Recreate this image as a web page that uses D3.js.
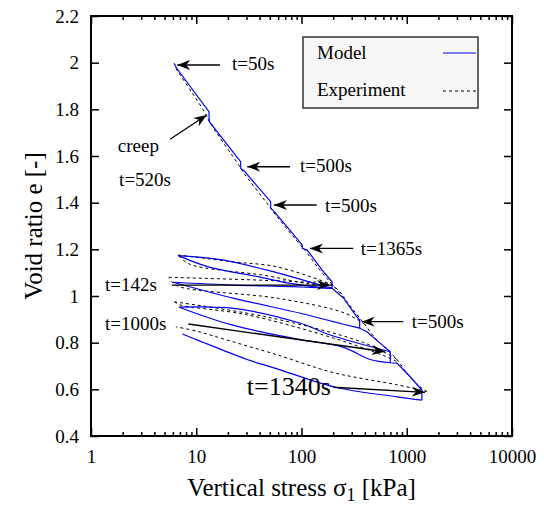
<!DOCTYPE html>
<html>
<head>
<meta charset="utf-8">
<script src="https://cdn.jsdelivr.net/npm/d3@7"></script>
<style>
  body { margin: 0; background: #fff; }
  svg text { font-family: "Liberation Serif", "Times New Roman", serif; fill: #000; }
</style>
</head>
<body>
<div id="graph"></div>
<script>
// axis ticks
var xTicks = [1, 10, 100, 1000, 10000]
var yTicks = [0.4, 0.6, 0.8, 1, 1.2, 1.4, 1.6, 1.8, 2, 2.2]

// model, [stress kPa, void ratio e]
var modelVirgin = [
  [6.16,1.997],[6.49,1.977],[13.2,1.790],[13.3,1.747],[26.4,1.576],[26.5,1.547],[28.4,1.537],
  [50.9,1.404],[51.0,1.376],[54.6,1.364],[101.6,1.219],[101.7,1.204],[113.3,1.197],[157,1.111],
  [195,1.061],[195,1.033],[252,0.990],[325,0.919],[357,0.897],[357,0.862],
  [419,0.847],[561,0.797],[697,0.761],[697,0.714],
  [807,0.712],[1079,0.654],[1393,0.597],[1393,0.554]
]
var modelUnloadA = [[195,1.033],[160,1.036],[78.6,1.054],[38.3,1.083],[12.8,1.126],[6.78,1.173]]
var modelReloadA = [[6.78,1.173],[18.2,1.154],[59.2,1.099],[162,1.043],[195,1.035]]
var modelUnloadB = [[357,0.862],[200,0.890],[97.9,0.926],[22.8,0.990],[6.03,1.059]]
var modelReloadB = [[6.03,1.059],[22,1.047],[80,1.040],[195,1.033]]
var modelUnloadC = [[697,0.714],[450,0.728],[250,0.780],[92.5,0.815],[21.8,0.876],[6.87,0.952]]
var modelReloadC = [[6.87,0.952],[22.8,0.947],[97.9,0.883],[188,0.833],[697,0.761]]
var modelUnloadEnd = [[1393,0.554],[807,0.568],[210,0.609],[56.7,0.690],[29.5,0.730],[10.3,0.811],[7.4,0.837]]

// experiment, [stress kPa, void ratio e]
var expVirgin = [
  [6.4,1.975],[9,1.875],[12.5,1.775],[13.3,1.748],[25,1.565],[27.5,1.535],[48,1.392],[53,1.365],
  [96,1.222],[108,1.196],[150,1.11],[200,1.045],[260,0.985],[330,0.925],[400,0.878],
  [500,0.82],[650,0.77],[800,0.73],[1000,0.67],[1300,0.615],[1560,0.59]
]
var expUnloadA = [[200,1.045],[120,1.052],[45,1.088],[8.6,1.137],[6.7,1.176]]
var expReloadA = [[6.7,1.176],[22,1.147],[57,1.126],[157,1.065],[200,1.045]]
var expUnloadB = [[400,0.878],[260,0.926],[60,0.99],[6.9,1.04],[5.8,1.064],[5.5,1.08]]
var expReloadB = [[5.5,1.08],[30,1.07],[100,1.06],[190,1.05],[260,0.99]]
var expUnloadC = [[800,0.73],[390,0.80],[47,0.91],[6.2,0.975]]
var expReloadC = [[6.2,0.975],[7,0.962],[30,0.92],[200,0.82],[600,0.745],[800,0.72]]
var expUnloadEnd = [[1560,0.59],[800,0.62],[390,0.645],[188,0.675],[56.7,0.75],[20,0.81],[10.6,0.847],[6.4,0.868]]

// annotations: label, arrow tail, arrow tip, text anchor (all in data units)
var notes = [
  {label: 't=50s',   tail: [16.8,1.990], tip: [6.6,1.990],  text: [21.9,1.969]},
  {label: 't=500s',  tail: [77.8,1.554], tip: [30.5,1.554], text: [96.8,1.533]},
  {label: 't=500s',  tail: [139.4,1.390], tip: [54.8,1.390], text: [167.2,1.361]},
  {label: 't=1365s', tail: [310.6,1.204], tip: [120.4,1.204], text: [365,1.176]},
  {label: 't=142s',  tail: [5.85,1.047], tip: [186.6,1.047], text: [1.36,1.023]},
  {label: 't=500s',  tail: [927,0.890], tip: [373,0.890],  text: [1114,0.862]},
  {label: 't=1000s', tail: [8.41,0.880], tip: [621,0.761],  text: [1.36,0.854]},
  {label: 't=1340s', tail: [200.5,0.609], tip: [1491,0.587], text: [30.2,0.576], big: true},
  {label: 'creep',   tail: [5.63,1.672], tip: [12.6,1.776], text: [1.80,1.617]},
  {label: 't=520s',  text: [1.85,1.471]}
]

var W = 544, H = 509
var pL = 91, pR = 512, pT = 16, pB = 436

var svg = d3.select('#graph').append('svg')
    .attr('width', W).attr('height', H)

var x = d3.scaleLog().domain([1, 10000]).range([pL, pR])
var y = d3.scaleLinear().domain([0.4, 2.2]).range([pB, pT])

svg.append('defs').append('marker')
    .attr('id', 'head')
    .attr('viewBox', '-13 -6 15 12')
    .attr('markerWidth', 15).attr('markerHeight', 12)
    .attr('markerUnits', 'userSpaceOnUse')
    .attr('refX', 0).attr('refY', 0)
    .attr('orient', 'auto')
  .append('path')
    .attr('d', 'M0,0 L-13,-5 L-9,0 L-13,5 Z')
    .attr('fill', '#000')

// minor ticks for the log axis
var minor = []
for (var d = 1; d < 10000; d *= 10)
  for (var k = 2; k < 10; k++) minor.push(d * k)

svg.append('g').attr('transform', 'translate(0,' + pB + ')')
    .call(d3.axisBottom(x).tickValues(xTicks).tickFormat(d3.format('d')).tickSizeInner(-8).tickSizeOuter(0).tickPadding(14))
svg.append('g').attr('transform', 'translate(0,' + pB + ')')
    .call(d3.axisBottom(x).tickValues(minor).tickFormat('').tickSizeInner(-4).tickSizeOuter(0))
svg.append('g').attr('transform', 'translate(0,' + pT + ')')
    .call(d3.axisTop(x).tickValues(xTicks).tickFormat('').tickSizeInner(-8).tickSizeOuter(0))
svg.append('g').attr('transform', 'translate(0,' + pT + ')')
    .call(d3.axisTop(x).tickValues(minor).tickFormat('').tickSizeInner(-4).tickSizeOuter(0))
svg.append('g').attr('transform', 'translate(' + pL + ',0)')
    .call(d3.axisLeft(y).tickValues(yTicks).tickFormat(d3.format('~g')).tickSizeInner(-8).tickSizeOuter(0).tickPadding(12))
svg.append('g').attr('transform', 'translate(' + pR + ',0)')
    .call(d3.axisRight(y).tickValues(yTicks).tickFormat('').tickSizeInner(-8).tickSizeOuter(0))

svg.selectAll('.domain').remove()
svg.selectAll('.tick line').attr('stroke', '#000').attr('stroke-width', 1.5)
svg.selectAll('.tick text').style('font-size', '19px')
    .style('font-family', '"Liberation Serif", "Times New Roman", serif')

// frame
svg.append('rect')
    .attr('x', pL).attr('y', pT)
    .attr('width', pR - pL).attr('height', pB - pT)
    .attr('fill', 'none').attr('stroke', '#000').attr('stroke-width', 2)

var straight = d3.line().x(function(d){ return x(d[0]) }).y(function(d){ return y(d[1]) })
var smooth = d3.line().x(function(d){ return x(d[0]) }).y(function(d){ return y(d[1]) })
    .curve(d3.curveCatmullRom.alpha(0.5))

function draw(pts, gen, dashed) {
  svg.append('path').datum(pts)
      .attr('d', gen)
      .attr('fill', 'none')
      .attr('stroke', dashed ? '#000' : '#0000ee')
      .attr('stroke-width', dashed ? 1 : 1.2)
      .attr('stroke-dasharray', dashed ? '3,3' : null)
}

draw(expVirgin, smooth, true)
;[expUnloadA, expReloadA, expUnloadB, expReloadB, expUnloadC, expReloadC, expUnloadEnd]
  .forEach(function(p){ draw(p, smooth, true) })

draw(modelVirgin, straight, false)
;[modelUnloadA, modelReloadA, modelUnloadB, modelReloadB, modelUnloadC, modelReloadC, modelUnloadEnd]
  .forEach(function(p){ draw(p, smooth, false) })

// annotations
notes.forEach(function(n){
  if (n.tail) {
    svg.append('line')
        .attr('x1', x(n.tail[0])).attr('y1', y(n.tail[1]))
        .attr('x2', x(n.tip[0])).attr('y2', y(n.tip[1]))
        .attr('stroke', '#000').attr('stroke-width', 1.3)
        .attr('marker-end', 'url(#head)')
  }
  svg.append('text')
      .attr('x', x(n.text[0])).attr('y', y(n.text[1]))
      .style('font-size', n.big ? '26px' : '19px')
      .text(n.label)
})

// legend
var lg = svg.append('g')
lg.append('rect')
    .attr('x', 303).attr('y', 37).attr('width', 175).attr('height', 71)
    .attr('fill', '#f7f7f7').attr('stroke', '#333').attr('stroke-width', 1.5)
lg.append('text').attr('x', 317).attr('y', 59).style('font-size', '19px').text('Model')
lg.append('text').attr('x', 317).attr('y', 96).style('font-size', '19px').text('Experiment')
lg.append('line').attr('x1', 443).attr('x2', 476).attr('y1', 53).attr('y2', 53)
    .attr('stroke', '#0000ee').attr('stroke-width', 1.2)
lg.append('line').attr('x1', 443).attr('x2', 476).attr('y1', 91).attr('y2', 91)
    .attr('stroke', '#000').attr('stroke-width', 1).attr('stroke-dasharray', '3,3')

// axis titles
var xt = svg.append('text')
    .attr('x', (pL + pR) / 2).attr('y', 496)
    .attr('text-anchor', 'middle')
    .style('font-size', '25px')
xt.append('tspan').text('Vertical stress σ')
xt.append('tspan').attr('dy', 5).style('font-size', '18px').text('1')
xt.append('tspan').attr('dy', -5).text(' [kPa]')

svg.append('text')
    .attr('transform', 'translate(42,' + (pT + pB) / 2 + ') rotate(-90)')
    .attr('text-anchor', 'middle')
    .style('font-size', '25px')
    .text('Void ratio e [-]')
</script>
</body>
</html>
